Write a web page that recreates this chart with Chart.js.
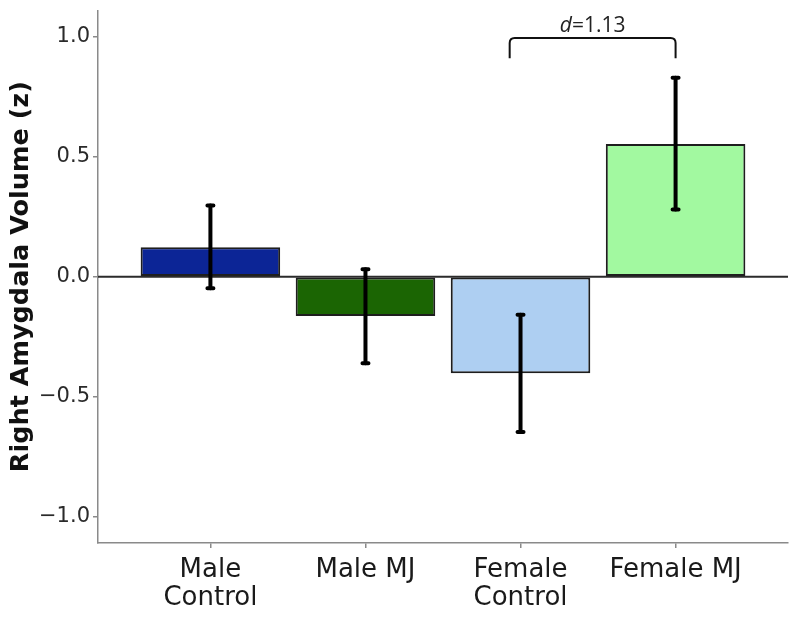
<!DOCTYPE html>
<html>
<head>
<meta charset="utf-8">
<script src="https://cdn.jsdelivr.net/npm/chart.js@4/dist/chart.umd.min.js"></script>
<style>
html,body{margin:0;padding:0;background:#fff;}
#wrap{width:800px;height:617px;}
</style>
</head>
<body>
<div id="wrap"><canvas id="c" width="800" height="617"></canvas></div>
<script>
// ---- data ----
const categories = [["Male","Control"], ["Male MJ"], ["Female","Control"], ["Female MJ"]];
const positions = [1, 2, 3, 4];
const means = [0.123, -0.164, -0.402, 0.553];
const errUpper = [0.297, 0.031, -0.159, 0.829];
const errLower = [-0.048, -0.361, -0.647, 0.280];
const yTicks = [-1.0, -0.5, 0.0, 0.5, 1.0];
const barColors = ["#0c2596", "#1b6503", "#aecff2", "#a2f9a0"];
// annotation: bracket between Female Control and Female MJ
const bracketX = [2.93, 4.0];
const bracketY = [0.995, 0.91];
const bracketLabelY = 1.02;
const effectLabel = ["d", "=1.13"];

const errorBarPlugin = {
  id: 'errorBars',
  afterDatasetsDraw(chart) {
    const {ctx, scales: {x, y}, chartArea} = chart;
    ctx.save();
    // zero line
    const y0 = y.getPixelForValue(0);
    ctx.strokeStyle = '#2b2b2b';
    ctx.lineWidth = 2;
    ctx.beginPath();
    ctx.moveTo(chartArea.left, y0);
    ctx.lineTo(chartArea.right, y0);
    ctx.stroke();
    // error bars
    ctx.strokeStyle = '#000';
    ctx.lineCap = 'round';
    positions.forEach((p, i) => {
      const px = x.getPixelForValue(p);
      const yt = y.getPixelForValue(errUpper[i]);
      const yb = y.getPixelForValue(errLower[i]);
      ctx.lineWidth = 4;
      ctx.beginPath();
      ctx.moveTo(px, yt);
      ctx.lineTo(px, yb);
      ctx.stroke();
      ctx.lineWidth = 4;
      ctx.beginPath();
      ctx.moveTo(px - 3, yt); ctx.lineTo(px + 3, yt);
      ctx.moveTo(px - 3, yb); ctx.lineTo(px + 3, yb);
      ctx.stroke();
    });
    // bracket
    const bx1 = x.getPixelForValue(bracketX[0]);
    const bx2 = x.getPixelForValue(bracketX[1]);
    const byTop = y.getPixelForValue(bracketY[0]);
    const byBot = y.getPixelForValue(bracketY[1]);
    const r = 5;
    ctx.lineCap = 'butt';
    ctx.lineWidth = 2;
    ctx.strokeStyle = '#111';
    ctx.beginPath();
    ctx.moveTo(bx1, byBot);
    ctx.lineTo(bx1, byTop + r);
    ctx.quadraticCurveTo(bx1, byTop, bx1 + r, byTop);
    ctx.lineTo(bx2 - r, byTop);
    ctx.quadraticCurveTo(bx2, byTop, bx2, byTop + r);
    ctx.lineTo(bx2, byBot);
    ctx.stroke();
    // label
    const ly = y.getPixelForValue(bracketLabelY);
    ctx.fillStyle = '#222';
    ctx.textBaseline = 'alphabetic';
    ctx.font = 'italic 21px "Open Sans"';
    const w1 = ctx.measureText(effectLabel[0]).width;
    ctx.font = '21px "Open Sans"';
    const w2 = ctx.measureText(effectLabel[1]).width;
    const cx = (bx1 + bx2) / 2;
    let sx = cx - (w1 + w2) / 2;
    ctx.font = 'italic 21px "Open Sans"';
    ctx.textAlign = 'left';
    ctx.fillText(effectLabel[0], sx, ly);
    ctx.font = '21px "Open Sans"';
    ctx.fillText(effectLabel[1], sx + w1, ly);
    ctx.restore();
  }
};

new Chart(document.getElementById('c'), {
  type: 'bar',
  data: {
    datasets: [{
      data: positions.map((p, i) => ({x: p, y: means[i]})),
      backgroundColor: barColors,
      borderColor: '#1e1e1e',
      borderWidth: 2,
      borderSkipped: false,
      categoryPercentage: 1.0,
      barPercentage: 0.9
    }]
  },
  options: {
    responsive: false,
    animation: false,
    layout: {padding: {left: 0, top: 8, right: 12, bottom: 0}},
    plugins: {legend: {display: false}, tooltip: {enabled: false}},
    scales: {
      x: {
        type: 'linear',
        min: 0.275,
        max: 4.725,
        offset: false,
        afterBuildTicks(scale) { scale.ticks = positions.map(v => ({value: v})); },
        afterFit(scale) { scale.height = 74; },
        grid: {display: true, drawOnChartArea: false, offset: false, tickLength: 5, color: '#8a8a8a', lineWidth: 1.5},
        border: {display: true, color: '#8a8a8a', width: 1.5},
        ticks: {
          autoSkip: false,
          maxRotation: 0,
          padding: 9,
          color: '#1a1a1a',
          font: {family: '"DejaVu Sans"', size: 26, lineHeight: 1.05},
          callback: (v) => { const i = positions.indexOf(v); return i >= 0 ? categories[i] : ''; }
        }
      },
      y: {
        min: -1.11,
        max: 1.11,
        afterBuildTicks(scale) { scale.ticks = yTicks.map(v => ({value: v})); },
        afterFit(scale) { scale.width = 98; },
        grid: {display: true, drawOnChartArea: false, tickLength: 5, color: '#8a8a8a', lineWidth: 1.5},
        border: {display: true, color: '#8a8a8a', width: 1.5},
        ticks: {
          padding: 3,
          color: '#2a2a2a',
          font: {family: '"DejaVu Sans"', size: 21, lineHeight: 0.7},
          callback: (v) => (v < 0 ? '\u2212' : '') + Math.abs(v).toFixed(1)
        },
        title: {
          display: true,
          text: 'Right Amygdala Volume (z)',
          color: '#111',
          font: {family: '"DejaVu Sans"', size: 25.5, weight: 'bold'},
          padding: {top: 6, bottom: 0}
        }
      }
    }
  },
  plugins: [errorBarPlugin]
});
</script>
</body>
</html>
